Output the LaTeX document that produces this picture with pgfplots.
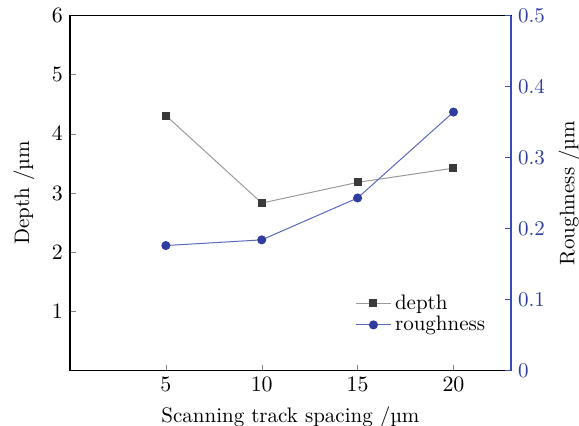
\documentclass[border=0pt]{standalone}
\usepackage{pgfplots}
\pgfplotsset{compat=1.18}
\definecolor{rblue}{HTML}{2E3D9E}
\definecolor{rline}{HTML}{5A68BE}
\definecolor{raxis}{HTML}{3B4BAE}
\definecolor{dmark}{HTML}{3A3A3A}
\definecolor{dline}{HTML}{9A9A9A}
\begin{document}
\begin{tikzpicture}[font=\fontsize{10.5}{12.5}\selectfont]
\begin{axis}[
  scale only axis, width=220.5pt, height=177.5pt,
  xmin=0, xmax=23, ymin=0, ymax=6,
  xtick={5,10,15,20}, ytick={1,2,3,4,5,6},
  xtick pos=bottom, ytick pos=left,
  tick align=inside, major tick length=3pt,
  axis line style={line width=0.6pt},
  xlabel={Scanning track spacing /\textmu m},
  ylabel={Depth /\textmu m},
  xlabel style={yshift=-0.5pt},
  ylabel style={yshift=2pt},
  ticklabel style={font=\fontsize{10.5}{12.5}\selectfont},
]
\addplot[color=dline, line width=0.5pt, mark=square*, mark size=1.75pt,
  mark options={fill=dmark, draw=dmark}] coordinates {
  (5,4.31) (10,2.83) (15,3.18) (20,3.42)};
\end{axis}
\begin{axis}[
  scale only axis, width=220.5pt, height=177.5pt,
  xmin=0, xmax=23, ymin=0, ymax=0.5,
  axis x line=none, axis y line*=right,
  ytick={0,0.1,0.2,0.3,0.4,0.5},
  yticklabels={0,0.1,0.2,0.3,0.4,0.5},
  tick align=inside, major tick length=3pt,
  y axis line style={color=raxis, line width=0.6pt, -},
  ytick style={color=raxis},
  yticklabel style={color=rblue, font=\fontsize{10.5}{12.5}\selectfont},
  ylabel={Roughness /\textmu m},
  ylabel style={color=black},
  legend style={draw=none, fill=none, at={(0.965,0.08)}, anchor=south east,
    row sep=-2pt, font=\fontsize{10.5}{12.5}\selectfont},
  legend cell align=left,
]
\addlegendimage{color=dline, line width=0.5pt, mark=square*, mark size=1.75pt, mark options={fill=dmark, draw=dmark}}
\addlegendentry{depth}
\addplot[color=rline, line width=0.5pt, mark=*, mark size=2pt,
  mark options={fill=rblue, draw=rblue}] coordinates {
  (5,0.176) (10,0.184) (15,0.243) (20,0.364)};
\addlegendentry{roughness}
\end{axis}
\pgfresetboundingbox
\path[use as bounding box] (-35pt,-27.3pt) rectangle (254.5pt,185.25pt);
\end{tikzpicture}
\end{document}
